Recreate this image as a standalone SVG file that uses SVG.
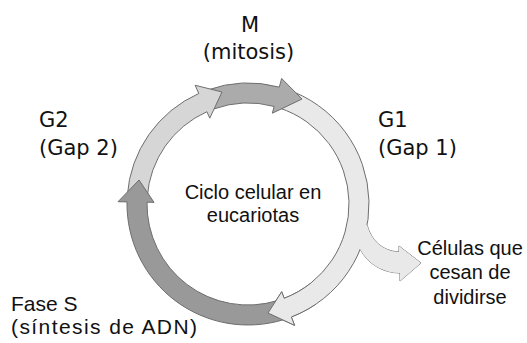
<svg xmlns="http://www.w3.org/2000/svg" xmlns:xlink="http://www.w3.org/1999/xlink" width="527" height="343" viewBox="0 0 527 343">
<style>
.arr{stroke:#6e6e6e;stroke-width:1;stroke-linejoin:miter}
.g1{fill:#e9e9e9}
.g2{fill:#d6d6d6}
.m{fill:#ababab}
.s{fill:#999999}
.lab{font-family:"DejaVu Sans",sans-serif;font-size:21px;fill:#111}
.txt{font-family:"Liberation Sans",Arial,sans-serif;font-size:20px;fill:#111}
</style>
<defs>
<clipPath id="g1head"><rect x="255" y="283" width="60" height="50"/></clipPath>
</defs>
<rect width="527" height="343" fill="#fff"/>
<g id="connectors">
<path id="branch" class="arr g1" d="M 367.2,225 C 371,240 382,251 399,252 L 399,246 L 421,263 L 400,281 L 400,273 C 383,273 368,264 360.2,249.3 A 121 121 0 0 0 367.2,225 Z"/>
<path id="arrowG1" class="arr g1" d="M 279.21,107.94 A 101 101 0 0 1 284.20,298.29 L 281.69,291.76 L 268,313 L 294.59,325.37 L 291.37,316.97 A 121 121 0 0 0 285.39,88.92 Z"/>
<path class="g1" d="M 367.2,225 C 371,240 382,251 399,252 L 399,246 L 421,263 L 400,281 L 400,273 C 383,273 368,264 360.2,249.3 L 351.8,246 L 358.3,223.4 Z"/>
<path id="arrowM" class="arr m" d="M 213.46,109.09 A 101 101 0 0 1 274.14,106.44 L 272.33,113.21 L 302,99 L 281.64,78.43 L 279.31,87.13 A 121 121 0 0 0 206.62,90.30 Z"/>
<path id="arrowG2" class="arr g2" d="M 147.24,196.95 A 101 101 0 0 1 206.92,111.74 L 209.77,118.13 L 222,92 L 195.13,85.24 L 198.79,93.47 A 121 121 0 0 0 127.29,195.55 Z"/>
<path id="arrowS" class="arr s" d="M 277.53,300.59 A 101 101 0 0 1 147.02,202.23 L 154.02,202.36 L 139,180 L 118.03,201.73 L 127.02,201.89 A 121 121 0 0 0 283.38,319.71 Z"/>
<use xlink:href="#arrowG1" href="#arrowG1" clip-path="url(#g1head)"/>
</g>
<g id="node-M">
<text class="lab" x="250" y="32" text-anchor="middle">M</text>
<text class="lab" x="248.5" y="59" text-anchor="middle">(mitosis)</text>
</g>
<g id="node-G2">
<text class="lab" x="39" y="127">G2</text>
<text class="lab" x="39" y="155">(Gap 2)</text>
</g>
<g id="node-G1">
<text class="lab" x="378" y="127">G1</text>
<text class="lab" x="378" y="155">(Gap 1)</text>
</g>
<g id="node-center">
<text class="txt" x="253" y="199" text-anchor="middle">Ciclo celular en</text>
<text class="txt" x="253" y="222" text-anchor="middle">eucariotas</text>
</g>
<g id="node-G0">
<text class="txt" x="470" y="255" text-anchor="middle">Células que</text>
<text class="txt" x="470" y="279" text-anchor="middle">cesan de</text>
<text class="txt" x="470" y="304" text-anchor="middle">dividirse</text>
</g>
<g id="node-S">
<text class="txt" x="11" y="311" style="font-size:21px">Fase S</text>
<text class="txt" x="11" y="334" style="font-size:21px" textLength="186" lengthAdjust="spacing">(síntesis de ADN)</text>
</g>
</svg>
